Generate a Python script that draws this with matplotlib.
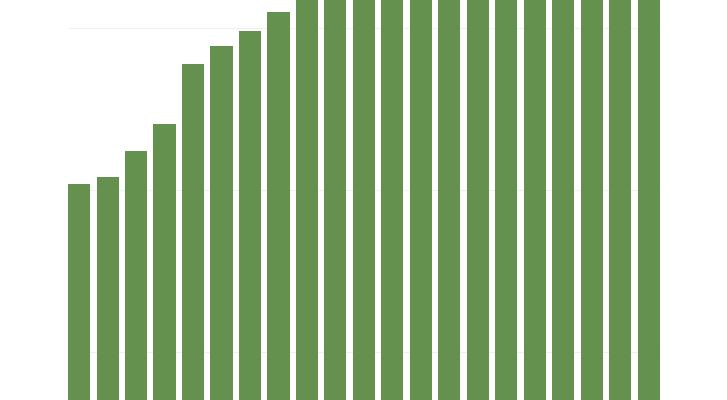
import matplotlib
matplotlib.use("Agg")
import matplotlib.pyplot as plt
import numpy as np

# bar values (only the lower part of the chart is visible)
categories = list(range(1, 22))
values = [30.4, 30.8, 32.4, 34.1, 37.8, 38.9, 39.8, 41.0,
          42.2, 42.6, 43.0, 43.4, 43.8, 44.1, 44.4, 44.7,
          45.0, 45.2, 45.4, 45.6, 45.8]
grid_values = [20, 30, 40]

bar_color = "#64914e"
bar_width = 0.772

fig = plt.figure(figsize=(7.27, 4.0), dpi=100)
ax = fig.add_axes([0, 0, 1, 1])

x = np.arange(len(categories))
ax.bar(x, values, width=bar_width, color=bar_color, zorder=2)

# faint grid, only across the plot area of the bars
ax.hlines(grid_values, x[0] - bar_width / 2, x[-1] + bar_width / 2,
          color="#efefef", linewidth=0.8, zorder=1)

ax.set_xlim(-2.772, 22.737)
ax.set_ylim(17.04, 41.73)
ax.set_axis_off()

fig.savefig("out.png", dpi=100)
